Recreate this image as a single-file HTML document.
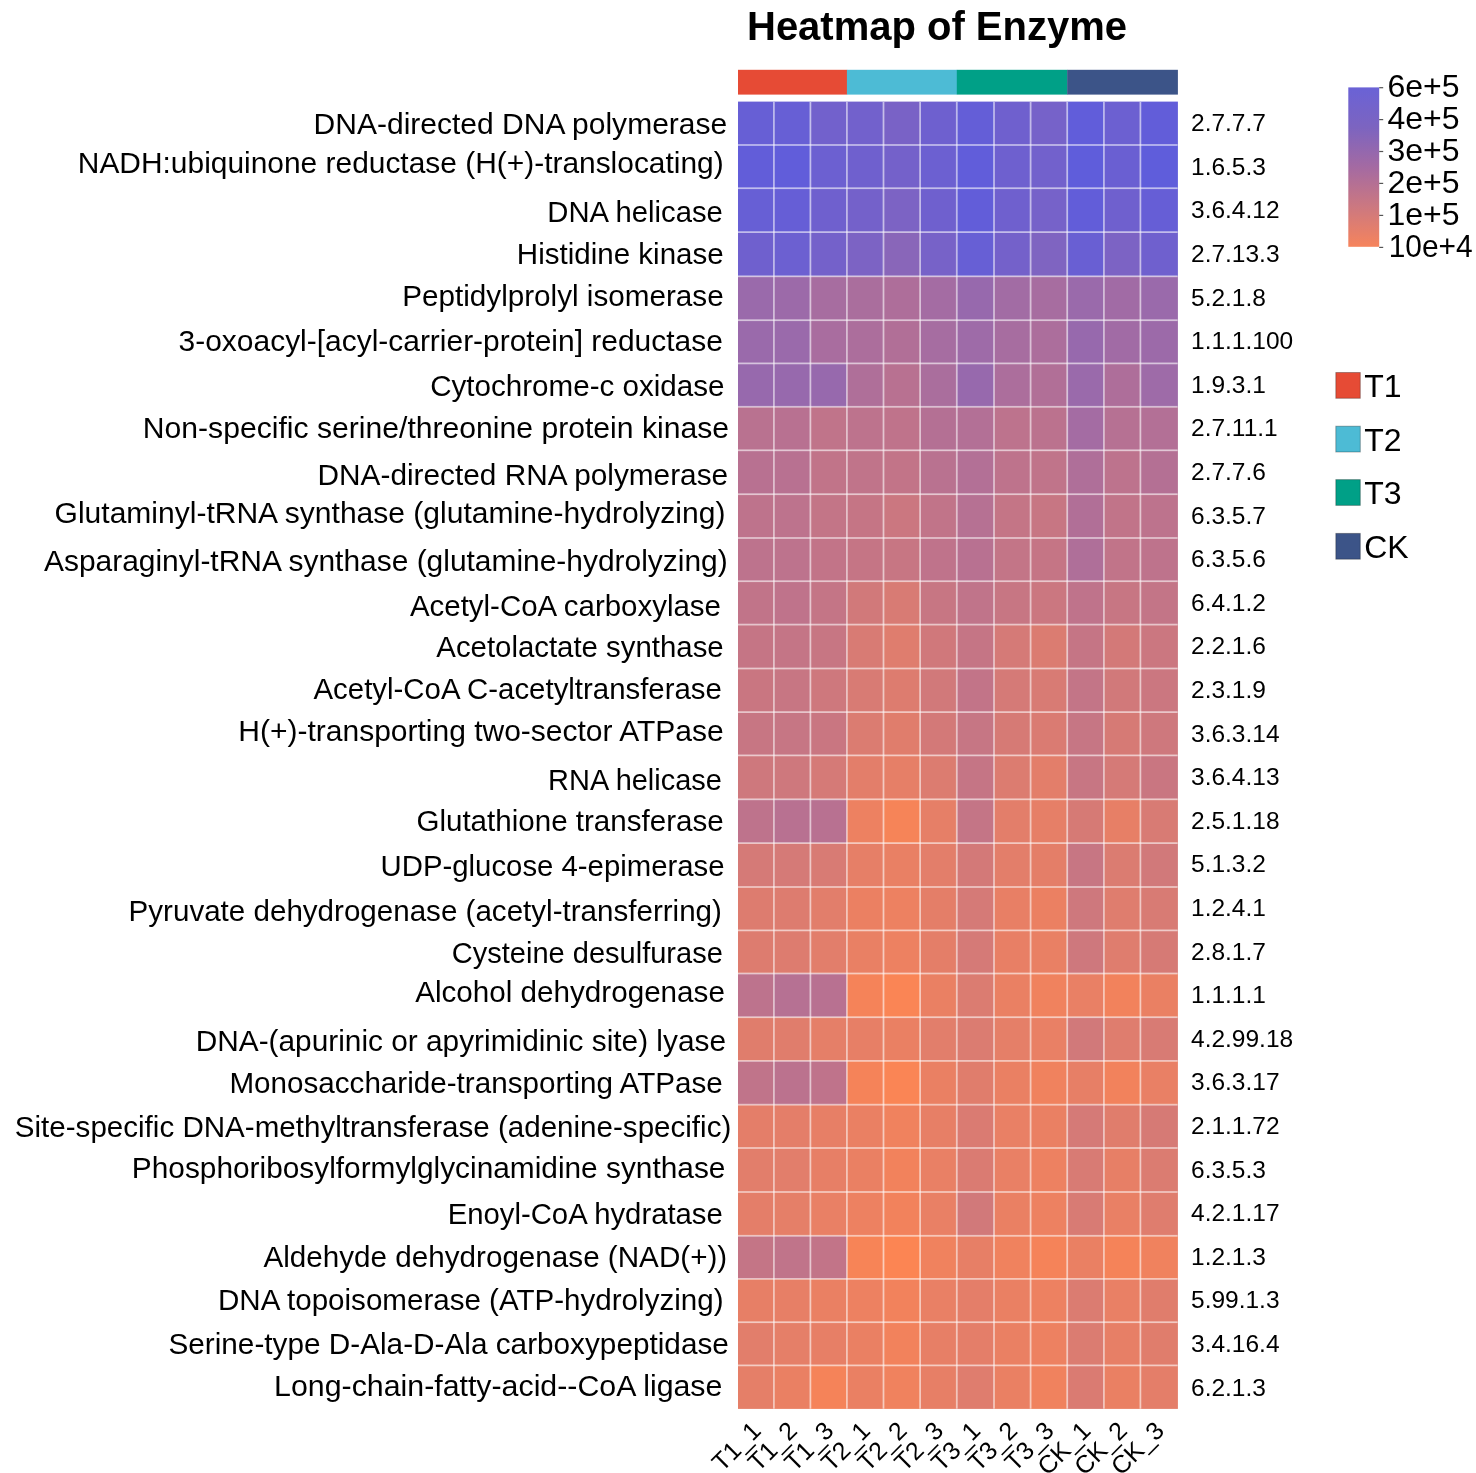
<!DOCTYPE html>
<html><head><meta charset="utf-8"><title>Heatmap of Enzyme</title>
<style>
html,body{margin:0;padding:0;background:#fff;}
body{width:1476px;height:1473px;overflow:hidden;}
svg{display:block;filter:blur(0.45px);}
text{font-family:"Liberation Sans",sans-serif;fill:#000;}
</style></head><body>
<svg width="1476" height="1473" viewBox="0 0 1476 1473">
<defs>
<linearGradient id="cb" x1="0" y1="0" x2="0" y2="1">
<stop offset="0" stop-color="#6a62d6"/>
<stop offset="0.25" stop-color="#7c64c0"/>
<stop offset="0.5" stop-color="#a46aa2"/>
<stop offset="0.75" stop-color="#cc7880"/>
<stop offset="1" stop-color="#f6845c"/>
</linearGradient>
</defs>

<text x="747" y="40" font-size="40" font-weight="bold" textLength="380" lengthAdjust="spacingAndGlyphs">Heatmap of Enzyme</text>
<rect x="738.00" y="69.8" width="109.20" height="24.799999999999997" fill="#E64B35"/>
<rect x="846.90" y="69.8" width="110.20" height="24.799999999999997" fill="#4DBBD5"/>
<rect x="956.80" y="69.8" width="110.70" height="24.799999999999997" fill="#00A087"/>
<rect x="1067.20" y="69.8" width="110.70" height="24.799999999999997" fill="#3C5488"/>
<rect x="738.00" y="101.60" width="36.20" height="43.70" fill="#675fd5"/>
<rect x="773.90" y="101.60" width="36.80" height="43.70" fill="#675fd5"/>
<rect x="810.40" y="101.60" width="36.80" height="43.70" fill="#7261cc"/>
<rect x="846.90" y="101.60" width="36.90" height="43.70" fill="#7261cc"/>
<rect x="883.50" y="101.60" width="36.90" height="43.70" fill="#7962c6"/>
<rect x="920.10" y="101.60" width="37.00" height="43.70" fill="#6e60cf"/>
<rect x="956.80" y="101.60" width="37.50" height="43.70" fill="#645ed7"/>
<rect x="994.00" y="101.60" width="36.90" height="43.70" fill="#6f60ce"/>
<rect x="1030.60" y="101.60" width="36.90" height="43.70" fill="#7662c9"/>
<rect x="1067.20" y="101.60" width="37.00" height="43.70" fill="#615dda"/>
<rect x="1103.90" y="101.60" width="36.80" height="43.70" fill="#6c60d1"/>
<rect x="1140.40" y="101.60" width="37.50" height="43.70" fill="#625dd9"/>
<rect x="738.00" y="145.00" width="36.20" height="43.50" fill="#625dd9"/>
<rect x="773.90" y="145.00" width="36.80" height="43.50" fill="#615dda"/>
<rect x="810.40" y="145.00" width="36.80" height="43.50" fill="#6c60d1"/>
<rect x="846.90" y="145.00" width="36.90" height="43.50" fill="#6f60ce"/>
<rect x="883.50" y="145.00" width="36.90" height="43.50" fill="#7461ca"/>
<rect x="920.10" y="145.00" width="37.00" height="43.50" fill="#6c60d1"/>
<rect x="956.80" y="145.00" width="37.50" height="43.50" fill="#615dda"/>
<rect x="994.00" y="145.00" width="36.90" height="43.50" fill="#6e60cf"/>
<rect x="1030.60" y="145.00" width="36.90" height="43.50" fill="#7261cc"/>
<rect x="1067.20" y="145.00" width="37.00" height="43.50" fill="#5f5ddb"/>
<rect x="1103.90" y="145.00" width="36.80" height="43.50" fill="#6a5fd2"/>
<rect x="1140.40" y="145.00" width="37.50" height="43.50" fill="#5f5ddb"/>
<rect x="738.00" y="188.20" width="36.20" height="44.20" fill="#675fd5"/>
<rect x="773.90" y="188.20" width="36.80" height="44.20" fill="#665ed6"/>
<rect x="810.40" y="188.20" width="36.80" height="44.20" fill="#6f60ce"/>
<rect x="846.90" y="188.20" width="36.90" height="44.20" fill="#7461ca"/>
<rect x="883.50" y="188.20" width="36.90" height="44.20" fill="#7c63c4"/>
<rect x="920.10" y="188.20" width="37.00" height="44.20" fill="#6f60ce"/>
<rect x="956.80" y="188.20" width="37.50" height="44.20" fill="#625dd9"/>
<rect x="994.00" y="188.20" width="36.90" height="44.20" fill="#6f60ce"/>
<rect x="1030.60" y="188.20" width="36.90" height="44.20" fill="#7662c9"/>
<rect x="1067.20" y="188.20" width="37.00" height="44.20" fill="#625dd9"/>
<rect x="1103.90" y="188.20" width="36.80" height="44.20" fill="#6f60ce"/>
<rect x="1140.40" y="188.20" width="37.50" height="44.20" fill="#665ed6"/>
<rect x="738.00" y="232.10" width="36.20" height="44.50" fill="#6f60ce"/>
<rect x="773.90" y="232.10" width="36.80" height="44.50" fill="#6c60d1"/>
<rect x="810.40" y="232.10" width="36.80" height="44.50" fill="#7461ca"/>
<rect x="846.90" y="232.10" width="36.90" height="44.50" fill="#7c63c4"/>
<rect x="883.50" y="232.10" width="36.90" height="44.50" fill="#8966b9"/>
<rect x="920.10" y="232.10" width="37.00" height="44.50" fill="#7762c8"/>
<rect x="956.80" y="232.10" width="37.50" height="44.50" fill="#675fd5"/>
<rect x="994.00" y="232.10" width="36.90" height="44.50" fill="#7461ca"/>
<rect x="1030.60" y="232.10" width="36.90" height="44.50" fill="#7f64c1"/>
<rect x="1067.20" y="232.10" width="37.00" height="44.50" fill="#695fd3"/>
<rect x="1103.90" y="232.10" width="36.80" height="44.50" fill="#7c63c4"/>
<rect x="1140.40" y="232.10" width="37.50" height="44.50" fill="#6f60ce"/>
<rect x="738.00" y="276.30" width="36.20" height="44.20" fill="#9a6aab"/>
<rect x="773.90" y="276.30" width="36.80" height="44.20" fill="#9c6aa9"/>
<rect x="810.40" y="276.30" width="36.80" height="44.20" fill="#a76da0"/>
<rect x="846.90" y="276.30" width="36.90" height="44.20" fill="#aa6e9d"/>
<rect x="883.50" y="276.30" width="36.90" height="44.20" fill="#ae6e9a"/>
<rect x="920.10" y="276.30" width="37.00" height="44.20" fill="#a46ca3"/>
<rect x="956.80" y="276.30" width="37.50" height="44.20" fill="#9769ad"/>
<rect x="994.00" y="276.30" width="36.90" height="44.20" fill="#a26ca4"/>
<rect x="1030.60" y="276.30" width="36.90" height="44.20" fill="#a76da0"/>
<rect x="1067.20" y="276.30" width="37.00" height="44.20" fill="#9a6aab"/>
<rect x="1103.90" y="276.30" width="36.80" height="44.20" fill="#a16ba5"/>
<rect x="1140.40" y="276.30" width="37.50" height="44.20" fill="#9a6aab"/>
<rect x="738.00" y="320.20" width="36.20" height="43.50" fill="#9a6aab"/>
<rect x="773.90" y="320.20" width="36.80" height="43.50" fill="#9a6aab"/>
<rect x="810.40" y="320.20" width="36.80" height="43.50" fill="#a96d9f"/>
<rect x="846.90" y="320.20" width="36.90" height="43.50" fill="#ac6e9c"/>
<rect x="883.50" y="320.20" width="36.90" height="43.50" fill="#b16f97"/>
<rect x="920.10" y="320.20" width="37.00" height="43.50" fill="#a66da1"/>
<rect x="956.80" y="320.20" width="37.50" height="43.50" fill="#9e6ba8"/>
<rect x="994.00" y="320.20" width="36.90" height="43.50" fill="#a76da0"/>
<rect x="1030.60" y="320.20" width="36.90" height="43.50" fill="#ac6e9c"/>
<rect x="1067.20" y="320.20" width="37.00" height="43.50" fill="#9769ad"/>
<rect x="1103.90" y="320.20" width="36.80" height="43.50" fill="#a16ba5"/>
<rect x="1140.40" y="320.20" width="37.50" height="43.50" fill="#9c6aa9"/>
<rect x="738.00" y="363.40" width="36.20" height="43.70" fill="#9769ad"/>
<rect x="773.90" y="363.40" width="36.80" height="43.70" fill="#9769ad"/>
<rect x="810.40" y="363.40" width="36.80" height="43.70" fill="#9769ad"/>
<rect x="846.90" y="363.40" width="36.90" height="43.70" fill="#af6f99"/>
<rect x="883.50" y="363.40" width="36.90" height="43.70" fill="#b87191"/>
<rect x="920.10" y="363.40" width="37.00" height="43.70" fill="#aa6e9d"/>
<rect x="956.80" y="363.40" width="37.50" height="43.70" fill="#9769ad"/>
<rect x="994.00" y="363.40" width="36.90" height="43.70" fill="#ac6e9c"/>
<rect x="1030.60" y="363.40" width="36.90" height="43.70" fill="#b16f97"/>
<rect x="1067.20" y="363.40" width="37.00" height="43.70" fill="#9a6aab"/>
<rect x="1103.90" y="363.40" width="36.80" height="43.70" fill="#ae6e9a"/>
<rect x="1140.40" y="363.40" width="37.50" height="43.70" fill="#9e6ba8"/>
<rect x="738.00" y="406.80" width="36.20" height="43.80" fill="#b97290"/>
<rect x="773.90" y="406.80" width="36.80" height="43.80" fill="#b87191"/>
<rect x="810.40" y="406.80" width="36.80" height="43.80" fill="#c0748a"/>
<rect x="846.90" y="406.80" width="36.90" height="43.80" fill="#bd738d"/>
<rect x="883.50" y="406.80" width="36.90" height="43.80" fill="#bf738b"/>
<rect x="920.10" y="406.80" width="37.00" height="43.80" fill="#b47094"/>
<rect x="956.80" y="406.80" width="37.50" height="43.80" fill="#b37096"/>
<rect x="994.00" y="406.80" width="36.90" height="43.80" fill="#bd738d"/>
<rect x="1030.60" y="406.80" width="36.90" height="43.80" fill="#bb728e"/>
<rect x="1067.20" y="406.80" width="37.00" height="43.80" fill="#a46ca3"/>
<rect x="1103.90" y="406.80" width="36.80" height="43.80" fill="#b67193"/>
<rect x="1140.40" y="406.80" width="37.50" height="43.80" fill="#b37096"/>
<rect x="738.00" y="450.30" width="36.20" height="44.20" fill="#b87191"/>
<rect x="773.90" y="450.30" width="36.80" height="44.20" fill="#b87191"/>
<rect x="810.40" y="450.30" width="36.80" height="44.20" fill="#c17489"/>
<rect x="846.90" y="450.30" width="36.90" height="44.20" fill="#c0748a"/>
<rect x="883.50" y="450.30" width="36.90" height="44.20" fill="#c27488"/>
<rect x="920.10" y="450.30" width="37.00" height="44.20" fill="#b97290"/>
<rect x="956.80" y="450.30" width="37.50" height="44.20" fill="#b37096"/>
<rect x="994.00" y="450.30" width="36.90" height="44.20" fill="#be738c"/>
<rect x="1030.60" y="450.30" width="36.90" height="44.20" fill="#c0748a"/>
<rect x="1067.20" y="450.30" width="37.00" height="44.20" fill="#af6f99"/>
<rect x="1103.90" y="450.30" width="36.80" height="44.20" fill="#bd738d"/>
<rect x="1140.40" y="450.30" width="37.50" height="44.20" fill="#b47094"/>
<rect x="738.00" y="494.20" width="36.20" height="44.10" fill="#be738c"/>
<rect x="773.90" y="494.20" width="36.80" height="44.10" fill="#bd738d"/>
<rect x="810.40" y="494.20" width="36.80" height="44.10" fill="#c37587"/>
<rect x="846.90" y="494.20" width="36.90" height="44.10" fill="#c57585"/>
<rect x="883.50" y="494.20" width="36.90" height="44.10" fill="#cb7780"/>
<rect x="920.10" y="494.20" width="37.00" height="44.10" fill="#c17489"/>
<rect x="956.80" y="494.20" width="37.50" height="44.10" fill="#b67193"/>
<rect x="994.00" y="494.20" width="36.90" height="44.10" fill="#c47586"/>
<rect x="1030.60" y="494.20" width="36.90" height="44.10" fill="#c77683"/>
<rect x="1067.20" y="494.20" width="37.00" height="44.10" fill="#b16f97"/>
<rect x="1103.90" y="494.20" width="36.80" height="44.10" fill="#c17489"/>
<rect x="1140.40" y="494.20" width="37.50" height="44.10" fill="#bd738d"/>
<rect x="738.00" y="538.00" width="36.20" height="43.50" fill="#bd738d"/>
<rect x="773.90" y="538.00" width="36.80" height="43.50" fill="#bd738d"/>
<rect x="810.40" y="538.00" width="36.80" height="43.50" fill="#c27488"/>
<rect x="846.90" y="538.00" width="36.90" height="43.50" fill="#c57585"/>
<rect x="883.50" y="538.00" width="36.90" height="43.50" fill="#c77683"/>
<rect x="920.10" y="538.00" width="37.00" height="43.50" fill="#bf738b"/>
<rect x="956.80" y="538.00" width="37.50" height="43.50" fill="#b87191"/>
<rect x="994.00" y="538.00" width="36.90" height="43.50" fill="#c37587"/>
<rect x="1030.60" y="538.00" width="36.90" height="43.50" fill="#c57585"/>
<rect x="1067.20" y="538.00" width="37.00" height="43.50" fill="#af6f99"/>
<rect x="1103.90" y="538.00" width="36.80" height="43.50" fill="#c17489"/>
<rect x="1140.40" y="538.00" width="37.50" height="43.50" fill="#be738c"/>
<rect x="738.00" y="581.20" width="36.20" height="43.70" fill="#c17489"/>
<rect x="773.90" y="581.20" width="36.80" height="43.70" fill="#bf738b"/>
<rect x="810.40" y="581.20" width="36.80" height="43.70" fill="#c47586"/>
<rect x="846.90" y="581.20" width="36.90" height="43.70" fill="#d1797a"/>
<rect x="883.50" y="581.20" width="36.90" height="43.70" fill="#d87b74"/>
<rect x="920.10" y="581.20" width="37.00" height="43.70" fill="#c77683"/>
<rect x="956.80" y="581.20" width="37.50" height="43.70" fill="#c0748a"/>
<rect x="994.00" y="581.20" width="36.90" height="43.70" fill="#c77683"/>
<rect x="1030.60" y="581.20" width="36.90" height="43.70" fill="#cb7780"/>
<rect x="1067.20" y="581.20" width="37.00" height="43.70" fill="#bf738b"/>
<rect x="1103.90" y="581.20" width="36.80" height="43.70" fill="#c77683"/>
<rect x="1140.40" y="581.20" width="37.50" height="43.70" fill="#c37587"/>
<rect x="738.00" y="624.60" width="36.20" height="44.20" fill="#c57585"/>
<rect x="773.90" y="624.60" width="36.80" height="44.20" fill="#c47586"/>
<rect x="810.40" y="624.60" width="36.80" height="44.20" fill="#c77683"/>
<rect x="846.90" y="624.60" width="36.90" height="44.20" fill="#d87b74"/>
<rect x="883.50" y="624.60" width="36.90" height="44.20" fill="#df7d6e"/>
<rect x="920.10" y="624.60" width="37.00" height="44.20" fill="#d0787b"/>
<rect x="956.80" y="624.60" width="37.50" height="44.20" fill="#c57585"/>
<rect x="994.00" y="624.60" width="36.90" height="44.20" fill="#d57a77"/>
<rect x="1030.60" y="624.60" width="36.90" height="44.20" fill="#db7c71"/>
<rect x="1067.20" y="624.60" width="37.00" height="44.20" fill="#c57585"/>
<rect x="1103.90" y="624.60" width="36.80" height="44.20" fill="#d37978"/>
<rect x="1140.40" y="624.60" width="37.50" height="44.20" fill="#cb7780"/>
<rect x="738.00" y="668.50" width="36.20" height="43.90" fill="#c97681"/>
<rect x="773.90" y="668.50" width="36.80" height="43.90" fill="#c77683"/>
<rect x="810.40" y="668.50" width="36.80" height="43.90" fill="#ce787d"/>
<rect x="846.90" y="668.50" width="36.90" height="43.90" fill="#d87b74"/>
<rect x="883.50" y="668.50" width="36.90" height="43.90" fill="#dd7c6f"/>
<rect x="920.10" y="668.50" width="37.00" height="43.90" fill="#d1797a"/>
<rect x="956.80" y="668.50" width="37.50" height="43.90" fill="#c27488"/>
<rect x="994.00" y="668.50" width="36.90" height="43.90" fill="#d57a77"/>
<rect x="1030.60" y="668.50" width="36.90" height="43.90" fill="#d87b74"/>
<rect x="1067.20" y="668.50" width="37.00" height="43.90" fill="#c37587"/>
<rect x="1103.90" y="668.50" width="36.80" height="43.90" fill="#d1797a"/>
<rect x="1140.40" y="668.50" width="37.50" height="43.90" fill="#cb7780"/>
<rect x="738.00" y="712.10" width="36.20" height="43.60" fill="#c77683"/>
<rect x="773.90" y="712.10" width="36.80" height="43.60" fill="#c67684"/>
<rect x="810.40" y="712.10" width="36.80" height="43.60" fill="#c97681"/>
<rect x="846.90" y="712.10" width="36.90" height="43.60" fill="#db7c71"/>
<rect x="883.50" y="712.10" width="36.90" height="43.60" fill="#e07d6c"/>
<rect x="920.10" y="712.10" width="37.00" height="43.60" fill="#d37978"/>
<rect x="956.80" y="712.10" width="37.50" height="43.60" fill="#c67684"/>
<rect x="994.00" y="712.10" width="36.90" height="43.60" fill="#d67a75"/>
<rect x="1030.60" y="712.10" width="36.90" height="43.60" fill="#da7b72"/>
<rect x="1067.20" y="712.10" width="37.00" height="43.60" fill="#c67684"/>
<rect x="1103.90" y="712.10" width="36.80" height="43.60" fill="#d67a75"/>
<rect x="1140.40" y="712.10" width="37.50" height="43.60" fill="#ce787d"/>
<rect x="738.00" y="755.40" width="36.20" height="44.20" fill="#ce787d"/>
<rect x="773.90" y="755.40" width="36.80" height="44.20" fill="#ce787d"/>
<rect x="810.40" y="755.40" width="36.80" height="44.20" fill="#d57a77"/>
<rect x="846.90" y="755.40" width="36.90" height="44.20" fill="#e37e6a"/>
<rect x="883.50" y="755.40" width="36.90" height="44.20" fill="#e67f67"/>
<rect x="920.10" y="755.40" width="37.00" height="44.20" fill="#dc7c70"/>
<rect x="956.80" y="755.40" width="37.50" height="44.20" fill="#c57585"/>
<rect x="994.00" y="755.40" width="36.90" height="44.20" fill="#dc7c70"/>
<rect x="1030.60" y="755.40" width="36.90" height="44.20" fill="#e37e6a"/>
<rect x="1067.20" y="755.40" width="37.00" height="44.20" fill="#c77683"/>
<rect x="1103.90" y="755.40" width="36.80" height="44.20" fill="#d57a77"/>
<rect x="1140.40" y="755.40" width="37.50" height="44.20" fill="#c97681"/>
<rect x="738.00" y="799.30" width="36.20" height="44.10" fill="#be738c"/>
<rect x="773.90" y="799.30" width="36.80" height="44.10" fill="#b87191"/>
<rect x="810.40" y="799.30" width="36.80" height="44.10" fill="#b87191"/>
<rect x="846.90" y="799.30" width="36.90" height="44.10" fill="#ed8161"/>
<rect x="883.50" y="799.30" width="36.90" height="44.10" fill="#f68458"/>
<rect x="920.10" y="799.30" width="37.00" height="44.10" fill="#e67f67"/>
<rect x="956.80" y="799.30" width="37.50" height="44.10" fill="#c47586"/>
<rect x="994.00" y="799.30" width="36.90" height="44.10" fill="#e37e6a"/>
<rect x="1030.60" y="799.30" width="36.90" height="44.10" fill="#e67f67"/>
<rect x="1067.20" y="799.30" width="37.00" height="44.10" fill="#d67a75"/>
<rect x="1103.90" y="799.30" width="36.80" height="44.10" fill="#e77f66"/>
<rect x="1140.40" y="799.30" width="37.50" height="44.10" fill="#d87b74"/>
<rect x="738.00" y="843.10" width="36.20" height="44.20" fill="#d57a77"/>
<rect x="773.90" y="843.10" width="36.80" height="44.20" fill="#d57a77"/>
<rect x="810.40" y="843.10" width="36.80" height="44.20" fill="#d87b74"/>
<rect x="846.90" y="843.10" width="36.90" height="44.20" fill="#e67f67"/>
<rect x="883.50" y="843.10" width="36.90" height="44.20" fill="#e98064"/>
<rect x="920.10" y="843.10" width="37.00" height="44.20" fill="#e37e6a"/>
<rect x="956.80" y="843.10" width="37.50" height="44.20" fill="#d37978"/>
<rect x="994.00" y="843.10" width="36.90" height="44.20" fill="#e37e6a"/>
<rect x="1030.60" y="843.10" width="36.90" height="44.20" fill="#e47e68"/>
<rect x="1067.20" y="843.10" width="37.00" height="44.20" fill="#c77683"/>
<rect x="1103.90" y="843.10" width="36.80" height="44.20" fill="#db7c71"/>
<rect x="1140.40" y="843.10" width="37.50" height="44.20" fill="#d1797a"/>
<rect x="738.00" y="887.00" width="36.20" height="43.70" fill="#dd7c6f"/>
<rect x="773.90" y="887.00" width="36.80" height="43.70" fill="#dd7c6f"/>
<rect x="810.40" y="887.00" width="36.80" height="43.70" fill="#e27e6b"/>
<rect x="846.90" y="887.00" width="36.90" height="43.70" fill="#eb8062"/>
<rect x="883.50" y="887.00" width="36.90" height="43.70" fill="#ed8161"/>
<rect x="920.10" y="887.00" width="37.00" height="43.70" fill="#e47e68"/>
<rect x="956.80" y="887.00" width="37.50" height="43.70" fill="#d57a77"/>
<rect x="994.00" y="887.00" width="36.90" height="43.70" fill="#e87f65"/>
<rect x="1030.60" y="887.00" width="36.90" height="43.70" fill="#eb8062"/>
<rect x="1067.20" y="887.00" width="37.00" height="43.70" fill="#ce787d"/>
<rect x="1103.90" y="887.00" width="36.80" height="43.70" fill="#df7d6e"/>
<rect x="1140.40" y="887.00" width="37.50" height="43.70" fill="#d87b74"/>
<rect x="738.00" y="930.40" width="36.20" height="43.40" fill="#dd7c6f"/>
<rect x="773.90" y="930.40" width="36.80" height="43.40" fill="#dd7c6f"/>
<rect x="810.40" y="930.40" width="36.80" height="43.40" fill="#e27e6b"/>
<rect x="846.90" y="930.40" width="36.90" height="43.40" fill="#e98064"/>
<rect x="883.50" y="930.40" width="36.90" height="43.40" fill="#ed8161"/>
<rect x="920.10" y="930.40" width="37.00" height="43.40" fill="#e47e68"/>
<rect x="956.80" y="930.40" width="37.50" height="43.40" fill="#d57a77"/>
<rect x="994.00" y="930.40" width="36.90" height="43.40" fill="#e87f65"/>
<rect x="1030.60" y="930.40" width="36.90" height="43.40" fill="#e98064"/>
<rect x="1067.20" y="930.40" width="37.00" height="43.40" fill="#ce787d"/>
<rect x="1103.90" y="930.40" width="36.80" height="43.40" fill="#df7d6e"/>
<rect x="1140.40" y="930.40" width="37.50" height="43.40" fill="#d67a75"/>
<rect x="738.00" y="973.50" width="36.20" height="44.00" fill="#bd738d"/>
<rect x="773.90" y="973.50" width="36.80" height="44.00" fill="#b67193"/>
<rect x="810.40" y="973.50" width="36.80" height="44.00" fill="#b87191"/>
<rect x="846.90" y="973.50" width="36.90" height="44.00" fill="#f58359"/>
<rect x="883.50" y="973.50" width="36.90" height="44.00" fill="#fa8555"/>
<rect x="920.10" y="973.50" width="37.00" height="44.00" fill="#ea8063"/>
<rect x="956.80" y="973.50" width="37.50" height="44.00" fill="#db7c71"/>
<rect x="994.00" y="973.50" width="36.90" height="44.00" fill="#ea8063"/>
<rect x="1030.60" y="973.50" width="36.90" height="44.00" fill="#f0825e"/>
<rect x="1067.20" y="973.50" width="37.00" height="44.00" fill="#e98065"/>
<rect x="1103.90" y="973.50" width="36.80" height="44.00" fill="#f2825c"/>
<rect x="1140.40" y="973.50" width="37.50" height="44.00" fill="#ea8063"/>
<rect x="738.00" y="1017.20" width="36.20" height="44.00" fill="#e07d6c"/>
<rect x="773.90" y="1017.20" width="36.80" height="44.00" fill="#e07d6c"/>
<rect x="810.40" y="1017.20" width="36.80" height="44.00" fill="#e57f68"/>
<rect x="846.90" y="1017.20" width="36.90" height="44.00" fill="#e77f66"/>
<rect x="883.50" y="1017.20" width="36.90" height="44.00" fill="#ea8063"/>
<rect x="920.10" y="1017.20" width="37.00" height="44.00" fill="#e27e6b"/>
<rect x="956.80" y="1017.20" width="37.50" height="44.00" fill="#db7c71"/>
<rect x="994.00" y="1017.20" width="36.90" height="44.00" fill="#e57f68"/>
<rect x="1030.60" y="1017.20" width="36.90" height="44.00" fill="#e98065"/>
<rect x="1067.20" y="1017.20" width="37.00" height="44.00" fill="#d1797a"/>
<rect x="1103.90" y="1017.20" width="36.80" height="44.00" fill="#df7d6e"/>
<rect x="1140.40" y="1017.20" width="37.50" height="44.00" fill="#d87b74"/>
<rect x="738.00" y="1060.90" width="36.20" height="44.10" fill="#c0748a"/>
<rect x="773.90" y="1060.90" width="36.80" height="44.10" fill="#bb728e"/>
<rect x="810.40" y="1060.90" width="36.80" height="44.10" fill="#bf738b"/>
<rect x="846.90" y="1060.90" width="36.90" height="44.10" fill="#f58359"/>
<rect x="883.50" y="1060.90" width="36.90" height="44.10" fill="#fa8555"/>
<rect x="920.10" y="1060.90" width="37.00" height="44.10" fill="#ea8063"/>
<rect x="956.80" y="1060.90" width="37.50" height="44.10" fill="#e07d6c"/>
<rect x="994.00" y="1060.90" width="36.90" height="44.10" fill="#ea8063"/>
<rect x="1030.60" y="1060.90" width="36.90" height="44.10" fill="#f0825e"/>
<rect x="1067.20" y="1060.90" width="37.00" height="44.10" fill="#e77f66"/>
<rect x="1103.90" y="1060.90" width="36.80" height="44.10" fill="#f2825c"/>
<rect x="1140.40" y="1060.90" width="37.50" height="44.10" fill="#e98065"/>
<rect x="738.00" y="1104.70" width="36.20" height="43.60" fill="#e47e69"/>
<rect x="773.90" y="1104.70" width="36.80" height="43.60" fill="#e47e69"/>
<rect x="810.40" y="1104.70" width="36.80" height="43.60" fill="#e77f66"/>
<rect x="846.90" y="1104.70" width="36.90" height="43.60" fill="#ea8063"/>
<rect x="883.50" y="1104.70" width="36.90" height="43.60" fill="#f0825e"/>
<rect x="920.10" y="1104.70" width="37.00" height="43.60" fill="#e77f66"/>
<rect x="956.80" y="1104.70" width="37.50" height="43.60" fill="#da7b72"/>
<rect x="994.00" y="1104.70" width="36.90" height="43.60" fill="#e98065"/>
<rect x="1030.60" y="1104.70" width="36.90" height="43.60" fill="#ea8063"/>
<rect x="1067.20" y="1104.70" width="37.00" height="43.60" fill="#d57a77"/>
<rect x="1103.90" y="1104.70" width="36.80" height="43.60" fill="#e07d6c"/>
<rect x="1140.40" y="1104.70" width="37.50" height="43.60" fill="#d67a75"/>
<rect x="738.00" y="1148.00" width="36.20" height="44.30" fill="#e27e6b"/>
<rect x="773.90" y="1148.00" width="36.80" height="44.30" fill="#e27e6b"/>
<rect x="810.40" y="1148.00" width="36.80" height="44.30" fill="#e77f66"/>
<rect x="846.90" y="1148.00" width="36.90" height="44.30" fill="#ea8063"/>
<rect x="883.50" y="1148.00" width="36.90" height="44.30" fill="#f2825c"/>
<rect x="920.10" y="1148.00" width="37.00" height="44.30" fill="#e98065"/>
<rect x="956.80" y="1148.00" width="37.50" height="44.30" fill="#da7b72"/>
<rect x="994.00" y="1148.00" width="36.90" height="44.30" fill="#e98065"/>
<rect x="1030.60" y="1148.00" width="36.90" height="44.30" fill="#ed8161"/>
<rect x="1067.20" y="1148.00" width="37.00" height="44.30" fill="#d87b74"/>
<rect x="1103.90" y="1148.00" width="36.80" height="44.30" fill="#e77f66"/>
<rect x="1140.40" y="1148.00" width="37.50" height="44.30" fill="#db7c71"/>
<rect x="738.00" y="1192.00" width="36.20" height="44.10" fill="#e47e69"/>
<rect x="773.90" y="1192.00" width="36.80" height="44.10" fill="#e57f68"/>
<rect x="810.40" y="1192.00" width="36.80" height="44.10" fill="#e98065"/>
<rect x="846.90" y="1192.00" width="36.90" height="44.10" fill="#ed8161"/>
<rect x="883.50" y="1192.00" width="36.90" height="44.10" fill="#f2825c"/>
<rect x="920.10" y="1192.00" width="37.00" height="44.10" fill="#e98065"/>
<rect x="956.80" y="1192.00" width="37.50" height="44.10" fill="#d1797a"/>
<rect x="994.00" y="1192.00" width="36.90" height="44.10" fill="#ea8063"/>
<rect x="1030.60" y="1192.00" width="36.90" height="44.10" fill="#ed8161"/>
<rect x="1067.20" y="1192.00" width="37.00" height="44.10" fill="#d87b74"/>
<rect x="1103.90" y="1192.00" width="36.80" height="44.10" fill="#e98065"/>
<rect x="1140.40" y="1192.00" width="37.50" height="44.10" fill="#df7d6e"/>
<rect x="738.00" y="1235.80" width="36.20" height="43.40" fill="#c47586"/>
<rect x="773.90" y="1235.80" width="36.80" height="43.40" fill="#c0748a"/>
<rect x="810.40" y="1235.80" width="36.80" height="43.40" fill="#c27488"/>
<rect x="846.90" y="1235.80" width="36.90" height="43.40" fill="#f78457"/>
<rect x="883.50" y="1235.80" width="36.90" height="43.40" fill="#fc8553"/>
<rect x="920.10" y="1235.80" width="37.00" height="43.40" fill="#f0825e"/>
<rect x="956.80" y="1235.80" width="37.50" height="43.40" fill="#e77f66"/>
<rect x="994.00" y="1235.80" width="36.90" height="43.40" fill="#f0825e"/>
<rect x="1030.60" y="1235.80" width="36.90" height="43.40" fill="#f58359"/>
<rect x="1067.20" y="1235.80" width="37.00" height="43.40" fill="#ea8063"/>
<rect x="1103.90" y="1235.80" width="36.80" height="43.40" fill="#f58359"/>
<rect x="1140.40" y="1235.80" width="37.50" height="43.40" fill="#f0825e"/>
<rect x="738.00" y="1278.90" width="36.20" height="43.60" fill="#e77f66"/>
<rect x="773.90" y="1278.90" width="36.80" height="43.60" fill="#e77f66"/>
<rect x="810.40" y="1278.90" width="36.80" height="43.60" fill="#ea8063"/>
<rect x="846.90" y="1278.90" width="36.90" height="43.60" fill="#ed8161"/>
<rect x="883.50" y="1278.90" width="36.90" height="43.60" fill="#f2825c"/>
<rect x="920.10" y="1278.90" width="37.00" height="43.60" fill="#e98065"/>
<rect x="956.80" y="1278.90" width="37.50" height="43.60" fill="#e47e69"/>
<rect x="994.00" y="1278.90" width="36.90" height="43.60" fill="#ea8063"/>
<rect x="1030.60" y="1278.90" width="36.90" height="43.60" fill="#ed8161"/>
<rect x="1067.20" y="1278.90" width="37.00" height="43.60" fill="#db7c71"/>
<rect x="1103.90" y="1278.90" width="36.80" height="43.60" fill="#e98065"/>
<rect x="1140.40" y="1278.90" width="37.50" height="43.60" fill="#e07d6c"/>
<rect x="738.00" y="1322.20" width="36.20" height="43.50" fill="#e27e6b"/>
<rect x="773.90" y="1322.20" width="36.80" height="43.50" fill="#e57f68"/>
<rect x="810.40" y="1322.20" width="36.80" height="43.50" fill="#e77f66"/>
<rect x="846.90" y="1322.20" width="36.90" height="43.50" fill="#ea8063"/>
<rect x="883.50" y="1322.20" width="36.90" height="43.50" fill="#f2825c"/>
<rect x="920.10" y="1322.20" width="37.00" height="43.50" fill="#e77f66"/>
<rect x="956.80" y="1322.20" width="37.50" height="43.50" fill="#e47e69"/>
<rect x="994.00" y="1322.20" width="36.90" height="43.50" fill="#ea8063"/>
<rect x="1030.60" y="1322.20" width="36.90" height="43.50" fill="#ed8161"/>
<rect x="1067.20" y="1322.20" width="37.00" height="43.50" fill="#db7c71"/>
<rect x="1103.90" y="1322.20" width="36.80" height="43.50" fill="#e77f66"/>
<rect x="1140.40" y="1322.20" width="37.50" height="43.50" fill="#e07d6c"/>
<rect x="738.00" y="1365.40" width="36.20" height="43.50" fill="#e57f68"/>
<rect x="773.90" y="1365.40" width="36.80" height="43.50" fill="#ea8063"/>
<rect x="810.40" y="1365.40" width="36.80" height="43.50" fill="#f58359"/>
<rect x="846.90" y="1365.40" width="36.90" height="43.50" fill="#ea8063"/>
<rect x="883.50" y="1365.40" width="36.90" height="43.50" fill="#f0825e"/>
<rect x="920.10" y="1365.40" width="37.00" height="43.50" fill="#e77f66"/>
<rect x="956.80" y="1365.40" width="37.50" height="43.50" fill="#df7d6e"/>
<rect x="994.00" y="1365.40" width="36.90" height="43.50" fill="#ea8063"/>
<rect x="1030.60" y="1365.40" width="36.90" height="43.50" fill="#f0825e"/>
<rect x="1067.20" y="1365.40" width="37.00" height="43.50" fill="#da7b72"/>
<rect x="1103.90" y="1365.40" width="36.80" height="43.50" fill="#ea8063"/>
<rect x="1140.40" y="1365.40" width="37.50" height="43.50" fill="#e47e69"/>
<rect x="773.00" y="101.7" width="1.8" height="1307.00" fill="#ffffff" fill-opacity="0.55"/>
<rect x="809.50" y="101.7" width="1.8" height="1307.00" fill="#ffffff" fill-opacity="0.55"/>
<rect x="846.00" y="101.7" width="1.8" height="1307.00" fill="#ffffff" fill-opacity="0.55"/>
<rect x="882.60" y="101.7" width="1.8" height="1307.00" fill="#ffffff" fill-opacity="0.55"/>
<rect x="919.20" y="101.7" width="1.8" height="1307.00" fill="#ffffff" fill-opacity="0.55"/>
<rect x="955.90" y="101.7" width="1.8" height="1307.00" fill="#ffffff" fill-opacity="0.55"/>
<rect x="993.10" y="101.7" width="1.8" height="1307.00" fill="#ffffff" fill-opacity="0.55"/>
<rect x="1029.70" y="101.7" width="1.8" height="1307.00" fill="#ffffff" fill-opacity="0.55"/>
<rect x="1066.30" y="101.7" width="1.8" height="1307.00" fill="#ffffff" fill-opacity="0.55"/>
<rect x="1103.00" y="101.7" width="1.8" height="1307.00" fill="#ffffff" fill-opacity="0.55"/>
<rect x="1139.50" y="101.7" width="1.8" height="1307.00" fill="#ffffff" fill-opacity="0.55"/>
<rect x="738.0" y="144.10" width="439.60" height="1.8" fill="#ffffff" fill-opacity="0.55"/>
<rect x="738.0" y="187.30" width="439.60" height="1.8" fill="#ffffff" fill-opacity="0.55"/>
<rect x="738.0" y="231.20" width="439.60" height="1.8" fill="#ffffff" fill-opacity="0.55"/>
<rect x="738.0" y="275.40" width="439.60" height="1.8" fill="#ffffff" fill-opacity="0.55"/>
<rect x="738.0" y="319.30" width="439.60" height="1.8" fill="#ffffff" fill-opacity="0.55"/>
<rect x="738.0" y="362.50" width="439.60" height="1.8" fill="#ffffff" fill-opacity="0.55"/>
<rect x="738.0" y="405.90" width="439.60" height="1.8" fill="#ffffff" fill-opacity="0.55"/>
<rect x="738.0" y="449.40" width="439.60" height="1.8" fill="#ffffff" fill-opacity="0.55"/>
<rect x="738.0" y="493.30" width="439.60" height="1.8" fill="#ffffff" fill-opacity="0.55"/>
<rect x="738.0" y="537.10" width="439.60" height="1.8" fill="#ffffff" fill-opacity="0.55"/>
<rect x="738.0" y="580.30" width="439.60" height="1.8" fill="#ffffff" fill-opacity="0.55"/>
<rect x="738.0" y="623.70" width="439.60" height="1.8" fill="#ffffff" fill-opacity="0.55"/>
<rect x="738.0" y="667.60" width="439.60" height="1.8" fill="#ffffff" fill-opacity="0.55"/>
<rect x="738.0" y="711.20" width="439.60" height="1.8" fill="#ffffff" fill-opacity="0.55"/>
<rect x="738.0" y="754.50" width="439.60" height="1.8" fill="#ffffff" fill-opacity="0.55"/>
<rect x="738.0" y="798.40" width="439.60" height="1.8" fill="#ffffff" fill-opacity="0.55"/>
<rect x="738.0" y="842.20" width="439.60" height="1.8" fill="#ffffff" fill-opacity="0.55"/>
<rect x="738.0" y="886.10" width="439.60" height="1.8" fill="#ffffff" fill-opacity="0.55"/>
<rect x="738.0" y="929.50" width="439.60" height="1.8" fill="#ffffff" fill-opacity="0.55"/>
<rect x="738.0" y="972.60" width="439.60" height="1.8" fill="#ffffff" fill-opacity="0.55"/>
<rect x="738.0" y="1016.30" width="439.60" height="1.8" fill="#ffffff" fill-opacity="0.55"/>
<rect x="738.0" y="1060.00" width="439.60" height="1.8" fill="#ffffff" fill-opacity="0.55"/>
<rect x="738.0" y="1103.80" width="439.60" height="1.8" fill="#ffffff" fill-opacity="0.55"/>
<rect x="738.0" y="1147.10" width="439.60" height="1.8" fill="#ffffff" fill-opacity="0.55"/>
<rect x="738.0" y="1191.10" width="439.60" height="1.8" fill="#ffffff" fill-opacity="0.55"/>
<rect x="738.0" y="1234.90" width="439.60" height="1.8" fill="#ffffff" fill-opacity="0.55"/>
<rect x="738.0" y="1278.00" width="439.60" height="1.8" fill="#ffffff" fill-opacity="0.55"/>
<rect x="738.0" y="1321.30" width="439.60" height="1.8" fill="#ffffff" fill-opacity="0.55"/>
<rect x="738.0" y="1364.50" width="439.60" height="1.8" fill="#ffffff" fill-opacity="0.55"/>
<text x="313.60" y="133.80" font-size="30" textLength="413.60" lengthAdjust="spacingAndGlyphs">DNA-directed DNA polymerase</text>
<text x="77.80" y="172.60" font-size="30" textLength="645.90" lengthAdjust="spacingAndGlyphs">NADH:ubiquinone reductase (H(+)-translocating)</text>
<text x="547.30" y="221.70" font-size="30" textLength="175.50" lengthAdjust="spacingAndGlyphs">DNA helicase</text>
<text x="516.80" y="264.40" font-size="30" textLength="206.90" lengthAdjust="spacingAndGlyphs">Histidine kinase</text>
<text x="402.20" y="305.90" font-size="30" textLength="321.50" lengthAdjust="spacingAndGlyphs">Peptidylprolyl isomerase</text>
<text x="178.60" y="351.00" font-size="30" textLength="544.20" lengthAdjust="spacingAndGlyphs">3-oxoacyl-[acyl-carrier-protein] reductase</text>
<text x="430.20" y="395.80" font-size="30" textLength="294.30" lengthAdjust="spacingAndGlyphs">Cytochrome-c oxidase</text>
<text x="142.80" y="437.90" font-size="30" textLength="586.20" lengthAdjust="spacingAndGlyphs">Non-specific serine/threonine protein kinase</text>
<text x="317.60" y="485.40" font-size="30" textLength="410.50" lengthAdjust="spacingAndGlyphs">DNA-directed RNA polymerase</text>
<text x="54.60" y="523.00" font-size="30" textLength="670.80" lengthAdjust="spacingAndGlyphs">Glutaminyl-tRNA synthase (glutamine-hydrolyzing)</text>
<text x="44.00" y="570.70" font-size="30" textLength="683.70" lengthAdjust="spacingAndGlyphs">Asparaginyl-tRNA synthase (glutamine-hydrolyzing)</text>
<text x="409.90" y="615.50" font-size="30" textLength="311.10" lengthAdjust="spacingAndGlyphs">Acetyl-CoA carboxylase</text>
<text x="436.30" y="657.00" font-size="30" textLength="287.40" lengthAdjust="spacingAndGlyphs">Acetolactate synthase</text>
<text x="313.50" y="698.50" font-size="30" textLength="408.40" lengthAdjust="spacingAndGlyphs">Acetyl-CoA C-acetyltransferase</text>
<text x="238.30" y="741.30" font-size="30" textLength="485.40" lengthAdjust="spacingAndGlyphs">H(+)-transporting two-sector ATPase</text>
<text x="548.10" y="789.50" font-size="30" textLength="173.80" lengthAdjust="spacingAndGlyphs">RNA helicase</text>
<text x="416.40" y="831.00" font-size="30" textLength="307.30" lengthAdjust="spacingAndGlyphs">Glutathione transferase</text>
<text x="380.60" y="876.40" font-size="30" textLength="343.90" lengthAdjust="spacingAndGlyphs">UDP-glucose 4-epimerase</text>
<text x="128.60" y="920.90" font-size="30" textLength="593.30" lengthAdjust="spacingAndGlyphs">Pyruvate dehydrogenase (acetyl-transferring)</text>
<text x="451.80" y="962.90" font-size="30" textLength="271.00" lengthAdjust="spacingAndGlyphs">Cysteine desulfurase</text>
<text x="415.20" y="1002.10" font-size="30" textLength="309.70" lengthAdjust="spacingAndGlyphs">Alcohol dehydrogenase</text>
<text x="195.70" y="1050.70" font-size="30" textLength="530.30" lengthAdjust="spacingAndGlyphs">DNA-(apurinic or apyrimidinic site) lyase</text>
<text x="229.40" y="1092.90" font-size="30" textLength="493.40" lengthAdjust="spacingAndGlyphs">Monosaccharide-transporting ATPase</text>
<text x="14.80" y="1137.00" font-size="30" textLength="716.50" lengthAdjust="spacingAndGlyphs">Site-specific DNA-methyltransferase (adenine-specific)</text>
<text x="131.80" y="1177.60" font-size="30" textLength="593.60" lengthAdjust="spacingAndGlyphs">Phosphoribosylformylglycinamidine synthase</text>
<text x="447.70" y="1224.40" font-size="30" textLength="275.10" lengthAdjust="spacingAndGlyphs">Enoyl-CoA hydratase</text>
<text x="263.50" y="1266.80" font-size="30" textLength="463.70" lengthAdjust="spacingAndGlyphs">Aldehyde dehydrogenase (NAD(+))</text>
<text x="218.00" y="1309.70" font-size="30" textLength="505.50" lengthAdjust="spacingAndGlyphs">DNA topoisomerase (ATP-hydrolyzing)</text>
<text x="168.40" y="1353.90" font-size="30" textLength="560.50" lengthAdjust="spacingAndGlyphs">Serine-type D-Ala-D-Ala carboxypeptidase</text>
<text x="274.10" y="1396.20" font-size="30" textLength="448.30" lengthAdjust="spacingAndGlyphs">Long-chain-fatty-acid--CoA ligase</text>
<text x="1191" y="131.20" font-size="24.5">2.7.7.7</text>
<text x="1191" y="174.80" font-size="24.5">1.6.5.3</text>
<text x="1191" y="218.40" font-size="24.5">3.6.4.12</text>
<text x="1191" y="262.00" font-size="24.5">2.7.13.3</text>
<text x="1191" y="305.60" font-size="24.5">5.2.1.8</text>
<text x="1191" y="349.20" font-size="24.5">1.1.1.100</text>
<text x="1191" y="392.80" font-size="24.5">1.9.3.1</text>
<text x="1191" y="436.40" font-size="24.5">2.7.11.1</text>
<text x="1191" y="480.00" font-size="24.5">2.7.7.6</text>
<text x="1191" y="523.60" font-size="24.5">6.3.5.7</text>
<text x="1191" y="567.20" font-size="24.5">6.3.5.6</text>
<text x="1191" y="610.80" font-size="24.5">6.4.1.2</text>
<text x="1191" y="654.40" font-size="24.5">2.2.1.6</text>
<text x="1191" y="698.00" font-size="24.5">2.3.1.9</text>
<text x="1191" y="741.60" font-size="24.5">3.6.3.14</text>
<text x="1191" y="785.20" font-size="24.5">3.6.4.13</text>
<text x="1191" y="828.80" font-size="24.5">2.5.1.18</text>
<text x="1191" y="872.40" font-size="24.5">5.1.3.2</text>
<text x="1191" y="916.00" font-size="24.5">1.2.4.1</text>
<text x="1191" y="959.60" font-size="24.5">2.8.1.7</text>
<text x="1191" y="1003.20" font-size="24.5">1.1.1.1</text>
<text x="1191" y="1046.80" font-size="24.5">4.2.99.18</text>
<text x="1191" y="1090.40" font-size="24.5">3.6.3.17</text>
<text x="1191" y="1134.00" font-size="24.5">2.1.1.72</text>
<text x="1191" y="1177.60" font-size="24.5">6.3.5.3</text>
<text x="1191" y="1221.20" font-size="24.5">4.2.1.17</text>
<text x="1191" y="1264.80" font-size="24.5">1.2.1.3</text>
<text x="1191" y="1308.40" font-size="24.5">5.99.1.3</text>
<text x="1191" y="1352.00" font-size="24.5">3.4.16.4</text>
<text x="1191" y="1395.60" font-size="24.5">6.2.1.3</text>
<rect x="1348.3" y="87.4" width="30.90000000000009" height="159.4" fill="url(#cb)"/>
<rect x="1379.2" y="87.10" width="4" height="1.2" fill="#555"/>
<text x="1387.5" y="97.00" font-size="32">6e+5</text>
<rect x="1379.2" y="119.00" width="4" height="1.2" fill="#555"/>
<text x="1387.5" y="128.90" font-size="32">4e+5</text>
<rect x="1379.2" y="150.90" width="4" height="1.2" fill="#555"/>
<text x="1387.5" y="160.80" font-size="32">3e+5</text>
<rect x="1379.2" y="182.80" width="4" height="1.2" fill="#555"/>
<text x="1387.5" y="192.70" font-size="32">2e+5</text>
<rect x="1379.2" y="214.80" width="4" height="1.2" fill="#555"/>
<text x="1387.5" y="224.70" font-size="32">1e+5</text>
<rect x="1379.2" y="246.80" width="4" height="1.2" fill="#555"/>
<text x="1388.7" y="256.70" font-size="32" textLength="84" lengthAdjust="spacingAndGlyphs">10e+4</text>
<rect x="1335.8" y="372.5" width="24.5" height="25.8" fill="#E64B35" stroke="#000" stroke-opacity="0.3" stroke-width="1"/>
<text x="1364.2" y="397.1" font-size="32">T1</text>
<rect x="1335.8" y="426.2" width="24.5" height="25.8" fill="#4DBBD5" stroke="#000" stroke-opacity="0.3" stroke-width="1"/>
<text x="1364.2" y="450.8" font-size="32">T2</text>
<rect x="1335.8" y="479.6" width="24.5" height="25.8" fill="#00A087" stroke="#000" stroke-opacity="0.3" stroke-width="1"/>
<text x="1364.2" y="504.20000000000005" font-size="32">T3</text>
<rect x="1335.8" y="533.4" width="24.5" height="25.8" fill="#3C5488" stroke="#000" stroke-opacity="0.3" stroke-width="1"/>
<text x="1364.2" y="558.0" font-size="32">CK</text>
<text x="762.45" y="1432.20" font-size="25" text-anchor="end" transform="rotate(-45 762.45 1432.20)">T1_1</text>
<text x="798.65" y="1432.20" font-size="25" text-anchor="end" transform="rotate(-45 798.65 1432.20)">T1_2</text>
<text x="835.15" y="1432.20" font-size="25" text-anchor="end" transform="rotate(-45 835.15 1432.20)">T1_3</text>
<text x="871.70" y="1432.20" font-size="25" text-anchor="end" transform="rotate(-45 871.70 1432.20)">T2_1</text>
<text x="908.30" y="1432.20" font-size="25" text-anchor="end" transform="rotate(-45 908.30 1432.20)">T2_2</text>
<text x="944.95" y="1432.20" font-size="25" text-anchor="end" transform="rotate(-45 944.95 1432.20)">T2_3</text>
<text x="981.90" y="1432.20" font-size="25" text-anchor="end" transform="rotate(-45 981.90 1432.20)">T3_1</text>
<text x="1018.80" y="1432.20" font-size="25" text-anchor="end" transform="rotate(-45 1018.80 1432.20)">T3_2</text>
<text x="1055.40" y="1432.20" font-size="25" text-anchor="end" transform="rotate(-45 1055.40 1432.20)">T3_3</text>
<text x="1092.05" y="1432.20" font-size="25" text-anchor="end" transform="rotate(-45 1092.05 1432.20)">CK_1</text>
<text x="1128.65" y="1432.20" font-size="25" text-anchor="end" transform="rotate(-45 1128.65 1432.20)">CK_2</text>
<text x="1165.50" y="1432.20" font-size="25" text-anchor="end" transform="rotate(-45 1165.50 1432.20)">CK_3</text>
</svg></body></html>
